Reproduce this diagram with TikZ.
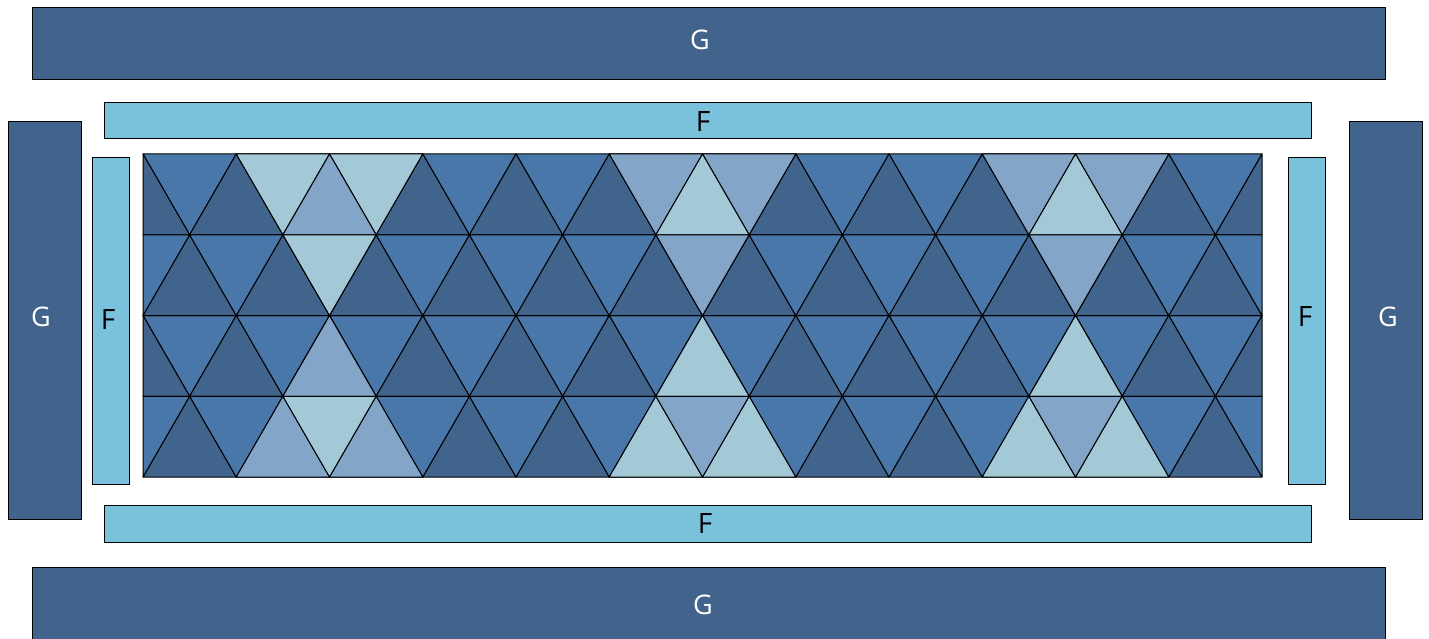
\documentclass[tikz,border=0pt]{standalone}
\usepackage{fontspec}
\setmainfont{Open Sans}
\definecolor{gdark}{HTML}{41638C}
\definecolor{tdark}{HTML}{41648D}
\definecolor{tmed}{HTML}{4A77AA}
\definecolor{tlm}{HTML}{82A5C8}
\definecolor{tlight}{HTML}{A3C8D6}
\definecolor{fcol}{HTML}{7AC1DC}
\tikzset{
  gbox/.style={draw=black, line width=1.2pt, fill=gdark, inner sep=0pt, anchor=north west},
  fbox/.style={draw=black, line width=1.2pt, fill=fcol, inner sep=0pt, anchor=north west},
  glabel/.style={text=white, inner sep=0pt, font=\fontsize{27}{27}\selectfont},
  flabel/.style={text=black, inner sep=0pt, font=\fontsize{28}{28}\selectfont},
  tri/.style={draw=black, line width=1pt, line join=round}
}
\begin{document}
\begin{tikzpicture}[x=1pt,y=-1pt]
\useasboundingbox (0,0) rectangle (1429,639);
% G boxes
\node[gbox, minimum width=1353pt, minimum height=72pt] (gtop) at (32,7) {};
\node[gbox, minimum width=1353pt, minimum height=78pt] (gbot) at (32,567) {};
\node[gbox, minimum width=73pt, minimum height=398pt] (gleft) at (8,121) {};
\node[gbox, minimum width=73pt, minimum height=398pt] (gright) at (1349,121) {};
% F boxes
\node[fbox, minimum width=1207pt, minimum height=36pt] (ftop) at (104,102) {};
\node[fbox, minimum width=1207pt, minimum height=37pt] (fbot) at (104,505) {};
\node[fbox, minimum width=37pt, minimum height=327pt] (fleft) at (92,157) {};
\node[fbox, minimum width=37pt, minimum height=327pt] (fright) at (1288,157) {};
% labels
\node[glabel] (lgtop) at (700,40) {G};
\node[glabel] (lgbot) at (703,605) {G};
\node[glabel] (lgleft) at (41,317) {G};
\node[glabel] (lgright) at (1388,317) {G};
\node[flabel] (lftop) at (703,122) {F};
\node[flabel] (lfbot) at (705,524) {F};
\node[flabel] (lfleft) at (108,320) {F};
\node[flabel] (lfright) at (1305,317) {F};
% triangle grid
\def\W{93.25}\def\D{46.625}\def\H{80.75}
% even rows
\foreach \yt in {154,315.5}{
  \pgfmathsetmacro\yb{\yt+\H}
  \foreach \k in {0,...,11}{
    \pgfmathsetmacro\xa{143+\k*\W}\pgfmathsetmacro\xb{\xa+\W}\pgfmathsetmacro\xm{\xa+\D}
    \filldraw[tri,fill=tmed] (\xa,\yt) -- (\xb,\yt) -- (\xm,\yb) -- cycle;
  }
  \foreach \k in {1,...,11}{
    \pgfmathsetmacro\xc{143+\k*\W}\pgfmathsetmacro\xl{\xc-\D}\pgfmathsetmacro\xr{\xc+\D}
    \filldraw[tri,fill=tdark] (\xl,\yb) -- (\xr,\yb) -- (\xc,\yt) -- cycle;
  }
  \filldraw[tri,fill=tdark] (143,\yt) -- (143,\yb) -- (143+\D,\yb) -- cycle;
  \filldraw[tri,fill=tdark] (1262,\yt) -- (1262,\yb) -- (1262-\D,\yb) -- cycle;
}
% odd rows
\foreach \yt in {234.75,396.25}{
  \pgfmathsetmacro\yb{\yt+\H}
  \foreach \k in {0,...,11}{
    \pgfmathsetmacro\xa{143+\k*\W}\pgfmathsetmacro\xb{\xa+\W}\pgfmathsetmacro\xm{\xa+\D}
    \filldraw[tri,fill=tdark] (\xa,\yb) -- (\xb,\yb) -- (\xm,\yt) -- cycle;
  }
  \foreach \k in {1,...,11}{
    \pgfmathsetmacro\xc{143+\k*\W}\pgfmathsetmacro\xl{\xc-\D}\pgfmathsetmacro\xr{\xc+\D}
    \filldraw[tri,fill=tmed] (\xl,\yt) -- (\xr,\yt) -- (\xc,\yb) -- cycle;
  }
  \filldraw[tri,fill=tmed] (143,\yt) -- (143+\D,\yt) -- (143,\yb) -- cycle;
  \filldraw[tri,fill=tmed] (1262,\yt) -- (1262-\D,\yt) -- (1262,\yb) -- cycle;
}
% light groups
\foreach \c/\ca/\cb in {2/tlight/tlm, 6/tlm/tlight, 10/tlm/tlight}{
  \pgfmathsetmacro\xc{143+\c*\W}
  \pgfmathsetmacro\xL{\xc-\W}\pgfmathsetmacro\xR{\xc+\W}
  \pgfmathsetmacro\xl{\xc-\D}\pgfmathsetmacro\xr{\xc+\D}
  % row 0
  \filldraw[tri,fill=\ca] (\xL,154) -- (\xc,154) -- (\xl,234.75) -- cycle;
  \filldraw[tri,fill=\ca] (\xc,154) -- (\xR,154) -- (\xr,234.75) -- cycle;
  \filldraw[tri,fill=\cb] (\xl,234.75) -- (\xr,234.75) -- (\xc,154) -- cycle;
  % row 1
  \filldraw[tri,fill=\ca] (\xl,234.75) -- (\xr,234.75) -- (\xc,315.5) -- cycle;
  % row 2
  \filldraw[tri,fill=\cb] (\xl,396.25) -- (\xr,396.25) -- (\xc,315.5) -- cycle;
  % row 3
  \filldraw[tri,fill=\cb] (\xL,477) -- (\xc,477) -- (\xl,396.25) -- cycle;
  \filldraw[tri,fill=\cb] (\xc,477) -- (\xR,477) -- (\xr,396.25) -- cycle;
  \filldraw[tri,fill=\ca] (\xl,396.25) -- (\xr,396.25) -- (\xc,477) -- cycle;
}
\end{tikzpicture}
\end{document}
